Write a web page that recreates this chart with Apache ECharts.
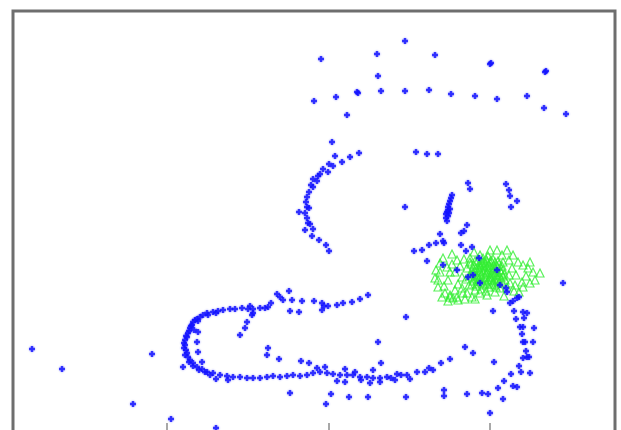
<!DOCTYPE html>
<html>
<head>
<meta charset="utf-8">
<script src="https://cdn.jsdelivr.net/npm/echarts@6/dist/echarts.min.js"></script>
<style>html,body{margin:0;padding:0;background:#fff;}#c{width:621px;height:430px;}</style>
</head>
<body>
<div id="c"></div>
<script>
// x-axis tick positions (data units)
const xTicks = [157, 319, 480];

// blue "+" observations, grouped by region of the figure
const blueTopArc = [[311,381],[367,386],[395,399],[425,385],[480,376],[481,377],[535,368],[536,369],[368,364],
  [304,339],[326,343],[348,347],[347,348],[371,349],[395,349],[419,350],[441,346],[465,344],[487,341],[517,344],
  [534,332],[556,326],[337,325]];
const blueUpperCurve = [[322,298],[325,284],[340,283],[349,287],[332,278],[319,276],[323,274],[313,271],[318,268],
  [310,266],[308,264],[303,261],[307,259],[301,255],[303,253],[299,248],[297,243],[296,238],[297,233],[299,232],
  [289,228],[295,227],[297,222],[298,217],[300,216],[295,210],[303,211],[302,204],[309,200],[316,195],[319,189]];
const blueMiddle = [[406,288],[417,286],[428,286],[458,257],[460,251],[496,256],[499,250],[500,244],[507,239],[501,233],
  [395,233],[442,245],[441,242],[440,239],[439,236],[438,233],[438,230],[437,228],[436,226],[438,224],[436,222],
  [437,219],[439,227],[440,231],[457,215],[454,209],[451,207],[430,206],[433,199],[434,197],[426,197],[419,195],
  [412,190],[404,189],[451,195],[462,193],[456,189],[417,179],[433,175],[447,170],[458,163],[469,182],[470,157],
  [487,170],[490,155],[496,152],[497,148],[463,165]];
const blueRightTail = [[553,157],[483,129],[500,137],[503,139],[507,142],[509,143],[504,129],[513,128],[517,127],
  [506,121],[514,122],[510,113],[513,113],[524,112],[512,106],[513,98],[515,98],[523,98],[516,89],[513,82],[517,83],
  [519,83],[484,78],[509,74],[501,66],[511,68],[520,67],[494,59],[488,52],[503,54],[507,53],[472,47],[478,46],
  [493,41],[480,27],[455,93],[463,87]];
const blueHook = [[267,146],[270,143],[279,149],[273,140],[282,140],[292,139],[304,139],[312,137],[314,134],[318,134],
  [327,135],[333,137],[342,138],[350,141],[358,145],[312,130],[280,129],[289,128],[261,137],[258,133],[255,132],
  [250,132],[243,131],[238,131],[232,132],[225,131],[220,131],[213,130],[208,129],[203,128],[197,127],[193,125],
  [190,123],[187,121],[183,118],[182,115],[180,112],[178,107],[177,103],[175,100],[175,95],[176,90],[177,87],
  [178,83],[180,80],[183,77],[187,73],[192,71],[197,68],[203,67],[210,65],[217,64],[223,63],[230,63],[237,62],
  [243,62],[250,62],[257,63],[263,64],[270,63],[277,64],[283,65],[290,64],[297,65],[303,67],[310,68],[317,67],
  [323,66],[330,65],[337,65],[343,65],[350,63],[357,63],[363,62],[370,62],[377,63],[387,66],[397,65],[407,68],
  [419,72],[431,77],[440,81],
  [185,120],[181,114],[179,109],[176,104],[174,97],[174,92],[175,85],[179,78],[183,74],[189,70],[195,68],[200,65],
  [188,119],[184,110],[198,125],[206,127],[206,61],[218,60],[240,134],
  [242,125],[243,127],[237,118],[235,112],[230,105],[188,108],[187,98],[188,88],[173,73],[192,78],[258,92],[257,85],
  [269,81],[291,79],[368,98],[371,77],[396,123],
  [299,77],[307,72],[315,73],[335,71],[345,68],[351,60],[363,70],[381,62],[391,65],[415,68],[423,70],[327,59],
  [335,58],[360,57],[370,58],[385,60],[400,61]];
const blueScatter = [[280,47],[316,36],[321,46],[339,43],[358,43],[396,43],[434,50],[434,44],[457,46],
  [22,91],[52,71],[142,86],[123,36],[161,21],[206,12]];

// green triangle observations
const greenCore = [[460,178],[464,175],[468,180],[472,177],[476,181],[480,178],[484,175],[488,179],[492,174],[462,170],
  [466,172],[470,169],[474,173],[478,170],[482,172],[486,168],[490,170],[494,166],[460,164],[464,161],[468,165],
  [472,162],[476,166],[480,163],[484,165],[488,161],[492,158],[462,156],[466,154],[470,158],[474,155],[478,159],
  [482,156],[486,153],[490,152],[469,175],[473,168],[477,174],[481,167],[475,160],[479,153],[471,151],[485,160],
  [467,159],[489,165],[463,167],[483,181],[473,182],[495,160],[457,172],[456,161],[478,184],[487,174],[493,178],
  [465,150],[476,149],[459,155],
  [461,176],[465,179],[469,171],[471,173],[475,177],[479,175],[483,170],[485,172],[489,176],[491,168],[493,170],
  [461,166],[465,168],[467,163],[471,165],[475,163],[477,168],[479,161],[481,163],[483,158],[487,163],[491,162],
  [493,164],[463,159],[467,156],[469,161],[473,157],[477,156],[481,160],[485,155],[489,157],[473,178],[477,179],
  [481,180],[485,178],[470,175],[486,165],[474,170],[480,172],[466,165]];
const greenOuter = [[425,162],[428,153],[435,147],[440,143],[453,147],[470,147],[485,148],[497,153],[512,158],[523,168],
  [530,167],[513,175],[503,185],[497,190],[487,190],[480,190],[470,185],[460,182],[447,180],[437,173],[430,168],
  [430,177],[428,160],[440,145],[457,147],[477,145],[513,153],[433,182],[442,176],[445,168],[438,160],[448,156],
  [452,163],[445,150],[450,174],[454,181],[502,172],[506,165],[500,157],[508,178],[516,164],[520,157],[499,180],
  [504,149],[494,144],[462,143],[447,143],[434,154],[426,170],[442,186],[464,188],[492,185],[518,172],[509,148],
  [452,152],[440,168],[499,165],[505,155],[520,178],[525,160],[432,143],
  [438,139],[448,140],[455,141],[465,141],[443,142]];

const bluePoints = [].concat(blueTopArc, blueUpperCurve, blueMiddle, blueRightTail, blueHook, blueScatter);
const greenPoints = [].concat(greenCore, greenOuter);

const chart = echarts.init(document.getElementById('c'), null, {renderer: 'canvas'});
chart.setOption({
  animation: false,
  backgroundColor: '#ffffff',
  grid: {left: 13, top: 11, right: 6, height: 424, show: true, borderColor: '#6e6e6e', borderWidth: 3,
         backgroundColor: 'transparent', outerBoundsMode: 'none', containLabel: false},
  xAxis: {
    type: 'value', min: 3, max: 605,
    axisLine: {show: false}, splitLine: {show: false}, axisLabel: {show: false},
    axisTick: {show: true, inside: true, length: 12, lineStyle: {color: '#a8a8a8', width: 2}, customValues: xTicks}
  },
  yAxis: {type: 'value', min: 5, max: 429, show: false},
  series: [
    {
      type: 'scatter', data: greenPoints,
      symbol: 'triangle', symbolSize: 8,
      itemStyle: {color: 'rgba(255,255,255,0)', borderColor: '#33ee33', borderWidth: 1.2}
    },
    {
      type: 'scatter', data: bluePoints,
      symbol: 'path://M1.8,0L4.2,0L4.2,1.8L6,1.8L6,4.2L4.2,4.2L4.2,6L1.8,6L1.8,4.2L0,4.2L0,1.8L1.8,1.8Z',
      symbolSize: 6,
      itemStyle: {color: '#1010ff', shadowBlur: 2, shadowColor: 'rgba(40,40,255,0.6)'}
    }
  ]
});
</script>
</body>
</html>
